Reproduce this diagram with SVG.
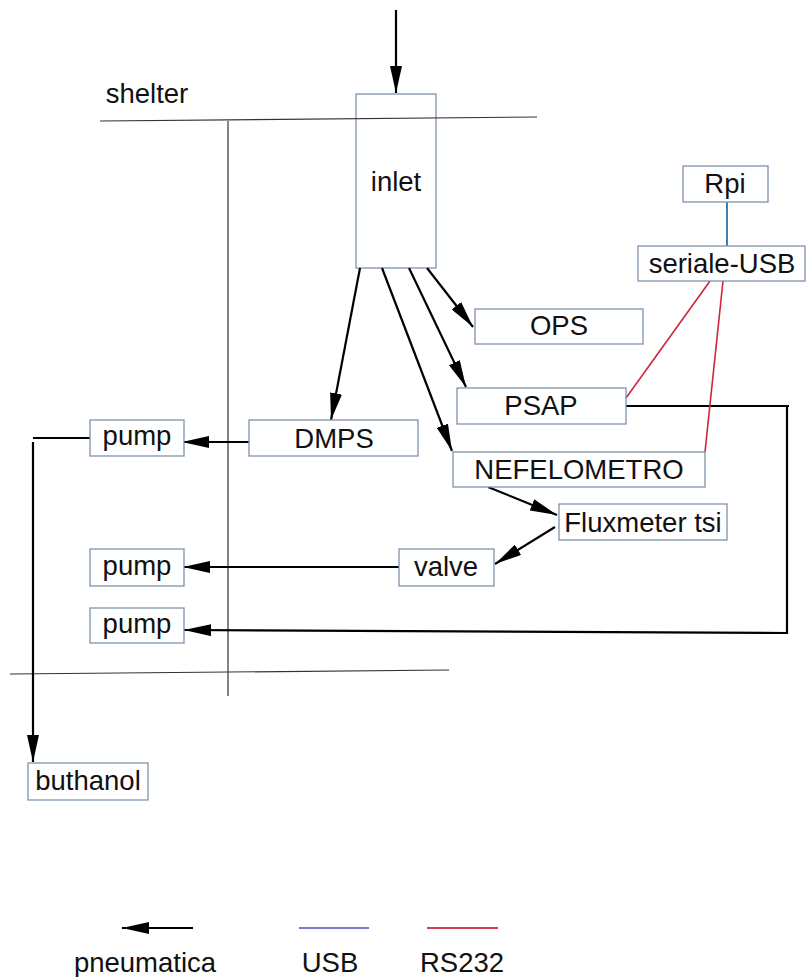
<svg xmlns="http://www.w3.org/2000/svg" width="806" height="977" viewBox="0 0 806 977">
<style>
.box{fill:#ffffff;stroke:#7d93ab;stroke-width:1.3}
.open{fill:none}
.lbl{font-family:"Liberation Sans",Arial,sans-serif;font-size:27.5px;fill:#111;text-anchor:middle}
.pn{fill:none;stroke:#000;stroke-width:2.2}
.thin{fill:none;stroke:#333;stroke-width:1.2}
.rs{fill:none;stroke:#d0243c;stroke-width:1.6}
.usb{fill:none;stroke:#2a70b0;stroke-width:1.8}
</style>
<defs>
<marker id="ahl" markerWidth="28" markerHeight="12" refX="27" refY="6" orient="auto" markerUnits="userSpaceOnUse">
<path d="M0,0 L27,6 L0,12 Z" fill="#000"/>
</marker>
</defs>
<rect width="806" height="977" fill="#ffffff"/>

<g id="inlet"><rect class="box open" x="356" y="94" width="80" height="174"/><text class="lbl" x="396" y="191">inlet</text></g>

<g id="shelter">
<line class="thin" x1="100" y1="121" x2="537" y2="117"/>
<line class="thin" x1="228" y1="121" x2="228" y2="696"/>
<line class="thin" x1="10" y1="674" x2="449" y2="670"/>
<text class="lbl" x="147" y="103">shelter</text>
</g>

<g id="connectors">
<line class="pn" x1="396" y1="10" x2="396" y2="93" marker-end="url(#ahl)"/>
<line class="pn" x1="360" y1="268" x2="331" y2="420" marker-end="url(#ahl)"/>
<line class="pn" x1="382" y1="268" x2="452" y2="451" marker-end="url(#ahl)"/>
<line class="pn" x1="409" y1="268" x2="466" y2="387" marker-end="url(#ahl)"/>
<line class="pn" x1="427" y1="268" x2="473" y2="327" marker-end="url(#ahl)"/>
<line class="pn" x1="488" y1="487" x2="557" y2="515" marker-end="url(#ahl)"/>
<line class="pn" x1="555" y1="527" x2="495" y2="564" marker-end="url(#ahl)"/>
<line class="pn" x1="249" y1="442" x2="182" y2="442" marker-end="url(#ahl)"/>
<line class="pn" x1="399" y1="567" x2="183" y2="567" marker-end="url(#ahl)"/>
<polyline class="pn" points="626,406 789,406"/>
<polyline class="pn" points="787,406 787,633 184,630" marker-end="url(#ahl)"/>
<line class="pn" x1="90" y1="438" x2="33" y2="438"/>
<line class="pn" x1="33" y1="442" x2="33" y2="762" marker-end="url(#ahl)"/>
<line class="usb" x1="727" y1="202" x2="727" y2="246"/>
<line class="rs" x1="710" y1="281" x2="626" y2="398"/>
<line class="rs" x1="723" y1="281" x2="705" y2="452"/>
</g>

<g id="rpi"><rect class="box" x="683" y="166" width="85" height="36"/><text class="lbl" x="725" y="193">Rpi</text></g>
<g id="seriale-usb"><rect class="box" x="638" y="246" width="167" height="35"/><text class="lbl" x="722" y="273">seriale-USB</text></g>
<g id="ops"><rect class="box" x="475" y="309" width="168" height="35"/><text class="lbl" x="559" y="335">OPS</text></g>
<g id="psap"><rect class="box" x="457" y="388" width="169" height="36"/><text class="lbl" x="541" y="415">PSAP</text></g>
<g id="nefelometro"><rect class="box" x="453" y="452" width="252" height="35"/><text class="lbl" x="579" y="479">NEFELOMETRO</text></g>
<g id="fluxmeter"><rect class="box" x="559" y="504" width="168" height="36"/><text class="lbl" x="643" y="532">Fluxmeter tsi</text></g>
<g id="valve"><rect class="box" x="399" y="549" width="95" height="37"/><text class="lbl" x="446" y="576">valve</text></g>
<g id="dmps"><rect class="box" x="249" y="420" width="169" height="36"/><text class="lbl" x="334" y="448">DMPS</text></g>
<g id="pump1"><rect class="box" x="90" y="420" width="94" height="36"/><text class="lbl" x="137" y="445">pump</text></g>
<g id="pump2"><rect class="box" x="90" y="549" width="94" height="37"/><text class="lbl" x="137" y="575">pump</text></g>
<g id="pump3"><rect class="box" x="90" y="608" width="94" height="35"/><text class="lbl" x="137" y="633">pump</text></g>
<g id="buthanol"><rect class="box" x="28" y="763" width="120" height="37"/><text class="lbl" x="88" y="790">buthanol</text></g>

<g id="legend">
<line class="pn" x1="193" y1="928" x2="122" y2="928" marker-end="url(#ahl)"/>
<line x1="299" y1="928" x2="369" y2="928" stroke="#7a7ad0" stroke-width="2.2"/>
<line x1="427" y1="928" x2="498" y2="928" stroke="#d04050" stroke-width="2.2"/>
<text class="lbl" x="145" y="972">pneumatica</text>
<text class="lbl" x="330" y="972">USB</text>
<text class="lbl" x="462" y="972">RS232</text>
</g>
</svg>
